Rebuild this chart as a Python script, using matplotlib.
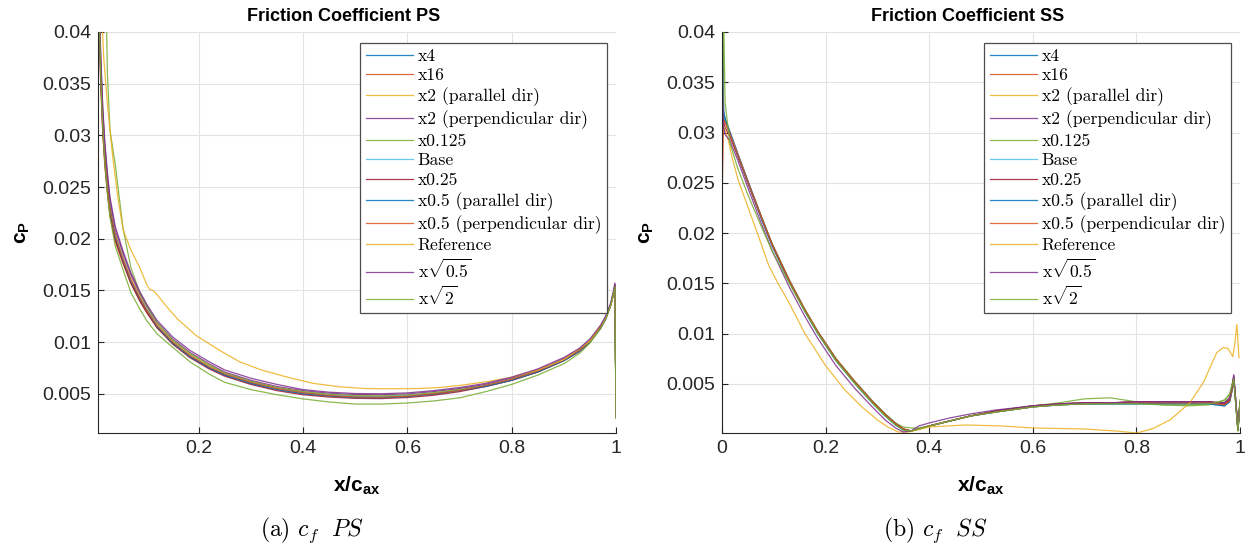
import numpy as np
import matplotlib
matplotlib.use('Agg')
import matplotlib.pyplot as plt
from matplotlib.font_manager import FontProperties
from matplotlib.ticker import FuncFormatter

plt.rcParams['font.family'] = ['Liberation Sans', 'DejaVu Sans']
plt.rcParams['mathtext.fontset'] = 'custom'
plt.rcParams['mathtext.rm'] = 'Liberation Sans'
plt.rcParams['mathtext.bf'] = 'Liberation Sans:bold'
plt.rcParams['mathtext.it'] = 'Liberation Sans:italic'

# MATLAB default line colours
C1 = (0.000, 0.447, 0.741)
C2 = (0.850, 0.325, 0.098)
C3 = (0.929, 0.694, 0.125)
C4 = (0.494, 0.184, 0.556)
C5 = (0.466, 0.674, 0.188)
C6 = (0.301, 0.745, 0.933)
C7 = (0.635, 0.078, 0.184)

labels = ['x4', 'x16', 'x2 (parallel dir)', 'x2 (perpendicular dir)', 'x0.125',
          'Base', 'x0.25', 'x0.5 (parallel dir)', 'x0.5 (perpendicular dir)',
          'Reference', r'x$\sqrt{0.5}$', r'x$\sqrt{2}$']
colors = [C1, C2, C3, C4, C5, C6, C7, C1, C2, C3, C4, C5]

# ---------------- pressure side ----------------
ps_x = [0.008, 0.012, 0.016, 0.02, 0.025, 0.03, 0.04, 0.055, 0.07, 0.087,
        0.1, 0.12, 0.15, 0.183, 0.22, 0.25, 0.3, 0.35, 0.4, 0.45,
        0.5, 0.55, 0.6, 0.65, 0.7, 0.75, 0.8, 0.85, 0.9, 0.93,
        0.95, 0.97, 0.98, 0.99, 0.995, 0.998, 1.0]

ps_x4 = [0.0450, 0.0362, 0.0311, 0.0278, 0.0249, 0.0226, 0.0200, 0.0178, 0.0158, 0.0141,
         0.0130, 0.0115, 0.0099, 0.0086, 0.0075, 0.0068, 0.0060, 0.0055, 0.0051, 0.00484,
         0.00470, 0.00468, 0.00478, 0.0050, 0.0053, 0.0058, 0.0064, 0.0072, 0.0083, 0.0092,
         0.0101, 0.0114, 0.0123, 0.0136, 0.0147, 0.0155, 0.0028]
ps_x16 = [0.0440, 0.0352, 0.0303, 0.0271, 0.0244, 0.0222, 0.0197, 0.0176, 0.0157, 0.0140,
          0.0129, 0.0114, 0.0099, 0.0086, 0.0075, 0.0068, 0.0060, 0.0054, 0.0050, 0.00478,
          0.00465, 0.00463, 0.00473, 0.00495, 0.0053, 0.0057, 0.0063, 0.0071, 0.0082, 0.0091,
          0.0100, 0.0113, 0.0122, 0.0136, 0.0146, 0.0154, 0.0030]
ps_x2_par = [0.0465, 0.0374, 0.0322, 0.0287, 0.0257, 0.0234, 0.0206, 0.0183, 0.0162, 0.0145,
             0.0133, 0.0117, 0.0101, 0.0088, 0.0077, 0.0070, 0.0062, 0.0056, 0.0052, 0.00492,
             0.00478, 0.00475, 0.00484, 0.00505, 0.0054, 0.0058, 0.0064, 0.0072, 0.0083, 0.0092,
             0.0101, 0.0114, 0.0123, 0.0136, 0.0146, 0.0154, 0.0027]
ps_x2_perp = [0.0470, 0.0378, 0.0326, 0.0291, 0.0261, 0.0237, 0.0209, 0.0186, 0.0165, 0.0147,
              0.0135, 0.0119, 0.0103, 0.0090, 0.0079, 0.0071, 0.0063, 0.0057, 0.0053, 0.00505,
              0.00492, 0.00490, 0.00498, 0.0052, 0.0055, 0.0059, 0.0065, 0.0073, 0.0084, 0.0093,
              0.0102, 0.0115, 0.0124, 0.0137, 0.0148, 0.0156, 0.0028]
ps_x0125 = [0.0700, 0.0650, 0.0580, 0.0500, 0.0360, 0.0305, 0.0272, 0.0210, 0.0172, 0.0148,
            0.0136, 0.0119, 0.0102, 0.0089, 0.0078, 0.0070, 0.0062, 0.0056, 0.0052, 0.00495,
            0.00482, 0.00480, 0.00488, 0.0051, 0.0054, 0.0058, 0.0064, 0.0072, 0.0083, 0.0092,
            0.0101, 0.0114, 0.0123, 0.0136, 0.0147, 0.0155, 0.0026]
ps_base = [0.0460, 0.0370, 0.0318, 0.0284, 0.0254, 0.0231, 0.0204, 0.0181, 0.0160, 0.0143,
           0.0132, 0.0116, 0.0100, 0.0087, 0.0076, 0.0069, 0.0061, 0.0055, 0.0051, 0.00485,
           0.00472, 0.00470, 0.00480, 0.0050, 0.0053, 0.0058, 0.0064, 0.0072, 0.0083, 0.0092,
           0.0101, 0.0114, 0.0123, 0.0136, 0.0146, 0.0154, 0.0029]
ps_x025 = [0.0445, 0.0356, 0.0306, 0.0274, 0.0246, 0.0224, 0.0199, 0.0177, 0.0157, 0.0140,
           0.0129, 0.0114, 0.0098, 0.0085, 0.0074, 0.0067, 0.0059, 0.0053, 0.0049, 0.00468,
           0.00455, 0.00453, 0.00463, 0.00485, 0.0052, 0.0057, 0.0063, 0.0071, 0.0082, 0.0091,
           0.0100, 0.0113, 0.0122, 0.0136, 0.0146, 0.0154, 0.0029]
ps_x05_par = [0.0452, 0.0364, 0.0313, 0.0280, 0.0251, 0.0228, 0.0202, 0.0179, 0.0159, 0.0142,
              0.0131, 0.0115, 0.0099, 0.0086, 0.0075, 0.0068, 0.0060, 0.0054, 0.0050, 0.00478,
              0.00463, 0.00461, 0.00472, 0.00495, 0.0053, 0.0057, 0.0063, 0.0071, 0.0082, 0.0091,
              0.0100, 0.0113, 0.0122, 0.0136, 0.0146, 0.0154, 0.0028]
ps_x05_perp = [0.0455, 0.0366, 0.0315, 0.0282, 0.0253, 0.0230, 0.0203, 0.0180, 0.0160, 0.0143,
               0.0131, 0.0116, 0.0100, 0.0087, 0.0076, 0.0069, 0.0061, 0.0055, 0.0051, 0.00483,
               0.00468, 0.00466, 0.00476, 0.0050, 0.0053, 0.0058, 0.0064, 0.0072, 0.0083, 0.0092,
               0.0101, 0.0114, 0.0123, 0.0136, 0.0146, 0.0154, 0.0028]
ps_sqrt05 = [0.0475, 0.0382, 0.0329, 0.0294, 0.0264, 0.0240, 0.0212, 0.0188, 0.0167, 0.0149,
             0.0137, 0.0121, 0.0105, 0.0092, 0.0081, 0.0073, 0.0065, 0.0059, 0.0054, 0.00515,
             0.00502, 0.00500, 0.00508, 0.0053, 0.0056, 0.0060, 0.0066, 0.0074, 0.0085, 0.0094,
             0.0103, 0.0116, 0.0125, 0.0138, 0.0149, 0.0157, 0.0027]
ps_sqrt2 = [0.0455, 0.0360, 0.0308, 0.0274, 0.0244, 0.0221, 0.0193, 0.0170, 0.0148, 0.0132,
            0.0121, 0.0108, 0.0095, 0.0081, 0.0069, 0.0061, 0.0054, 0.0049, 0.0045, 0.0042,
            0.0040, 0.0040, 0.0041, 0.0043, 0.0046, 0.0052, 0.0059, 0.0068, 0.0079, 0.0089,
            0.0099, 0.0113, 0.0122, 0.0136, 0.0146, 0.0153, 0.0027]

ps_ref_x = [0.010, 0.014, 0.018, 0.025, 0.035, 0.045, 0.055, 0.07, 0.087, 0.1,
            0.106, 0.112, 0.12, 0.139, 0.16, 0.196, 0.24, 0.278, 0.32, 0.374,
            0.42, 0.47, 0.52, 0.566, 0.62, 0.66, 0.7, 0.757, 0.8, 0.85,
            0.9, 0.95, 0.98, 0.99, 0.998, 1.0]
ps_ref = [0.0480, 0.0420, 0.0375, 0.0330, 0.0280, 0.0240, 0.0209, 0.0189, 0.0172, 0.0156,
          0.0151, 0.0150, 0.0146, 0.0134, 0.0122, 0.0106, 0.0092, 0.0081, 0.0073, 0.00655,
          0.0060, 0.00567, 0.0055, 0.00548, 0.0055, 0.0056, 0.0058, 0.0062, 0.0066, 0.0073,
          0.0083, 0.0101, 0.0123, 0.0136, 0.0154, 0.0027]

# ---------------- suction side ----------------
ss_x = [0.0, 0.003, 0.006, 0.015, 0.03, 0.05, 0.077, 0.097, 0.131, 0.16,
        0.185, 0.22, 0.257, 0.29, 0.315, 0.335, 0.35, 0.365, 0.38, 0.4,
        0.44, 0.48, 0.53, 0.6, 0.65, 0.7, 0.75, 0.8, 0.85, 0.9,
        0.94, 0.97, 0.98, 0.985, 0.988, 0.992, 0.996, 1.0]

ss_x4 = [0.0450, 0.0322, 0.0314, 0.0301, 0.0279, 0.0251, 0.0214, 0.0188, 0.0151, 0.0123,
         0.0101, 0.0074, 0.0051, 0.0032, 0.0019, 0.0010, 0.0005, 0.0003, 0.0005, 0.0008,
         0.0013, 0.0018, 0.0022, 0.0027, 0.0029, 0.0030, 0.0030, 0.0030, 0.0030, 0.0030,
         0.0030, 0.0028, 0.0032, 0.0044, 0.0054, 0.0031, 0.0005, 0.0030]
ss_x16 = [0.0228, 0.0312, 0.0310, 0.0299, 0.0278, 0.0250, 0.0214, 0.0188, 0.0151, 0.0123,
          0.0101, 0.0074, 0.0051, 0.0032, 0.0019, 0.0010, 0.0005, 0.0003, 0.0005, 0.0008,
          0.0013, 0.0018, 0.0023, 0.0028, 0.0030, 0.0031, 0.0031, 0.0032, 0.0032, 0.0032,
          0.0032, 0.0030, 0.0034, 0.0046, 0.0056, 0.0031, 0.0004, 0.0032]
ss_x2_par = [0.0300, 0.0315, 0.0311, 0.0300, 0.0279, 0.0251, 0.0215, 0.0189, 0.0152, 0.0124,
             0.0102, 0.0075, 0.0052, 0.0033, 0.0020, 0.0010, 0.0005, 0.0003, 0.0005, 0.0008,
             0.0013, 0.0018, 0.0022, 0.0027, 0.0029, 0.0030, 0.0030, 0.0031, 0.0031, 0.0031,
             0.0031, 0.0029, 0.0033, 0.0045, 0.0055, 0.0030, 0.0004, 0.0031]
ss_x2_perp = [0.0410, 0.0320, 0.0313, 0.0301, 0.0280, 0.0252, 0.0215, 0.0189, 0.0152, 0.0124,
              0.0102, 0.0075, 0.0052, 0.0033, 0.0020, 0.0011, 0.0005, 0.0003, 0.0005, 0.0008,
              0.0013, 0.0018, 0.0023, 0.0028, 0.0030, 0.0031, 0.0031, 0.0032, 0.0032, 0.0032,
              0.0032, 0.0031, 0.0036, 0.0048, 0.0058, 0.0032, 0.0005, 0.0032]
ss_x0125 = [0.0360, 0.0316, 0.0312, 0.0300, 0.0279, 0.0251, 0.0215, 0.0189, 0.0152, 0.0124,
            0.0102, 0.0075, 0.0052, 0.0033, 0.0020, 0.0011, 0.0007, 0.0006, 0.0006, 0.0008,
            0.0013, 0.0018, 0.0023, 0.0028, 0.0031, 0.0035, 0.0036, 0.0032, 0.0029, 0.0028,
            0.0029, 0.0034, 0.0040, 0.0050, 0.0054, 0.0028, 0.0003, 0.0033]
ss_base = [0.0430, 0.0318, 0.0312, 0.0300, 0.0278, 0.0250, 0.0213, 0.0187, 0.0150, 0.0122,
           0.0100, 0.0073, 0.0050, 0.0031, 0.0018, 0.0009, 0.0004, 0.0003, 0.0005, 0.0008,
           0.0013, 0.0018, 0.0022, 0.0027, 0.0029, 0.0030, 0.0030, 0.0031, 0.0031, 0.0031,
           0.0031, 0.0029, 0.0033, 0.0045, 0.0055, 0.0030, 0.0004, 0.0031]
ss_x025 = [0.0320, 0.0310, 0.0305, 0.0296, 0.0277, 0.0250, 0.0214, 0.0188, 0.0151, 0.0123,
           0.0101, 0.0074, 0.0051, 0.0032, 0.0019, 0.0010, 0.0005, 0.0003, 0.0005, 0.0008,
           0.0013, 0.0018, 0.0023, 0.0028, 0.0030, 0.0031, 0.0031, 0.0032, 0.0032, 0.0032,
           0.0032, 0.0030, 0.0034, 0.0046, 0.0056, 0.0031, 0.0004, 0.0032]
ss_x05_par = [0.0440, 0.0319, 0.0313, 0.0300, 0.0278, 0.0250, 0.0213, 0.0187, 0.0150, 0.0122,
              0.0100, 0.0073, 0.0050, 0.0031, 0.0018, 0.0009, 0.0004, 0.0003, 0.0005, 0.0008,
              0.0013, 0.0018, 0.0022, 0.0027, 0.0029, 0.0030, 0.0030, 0.0030, 0.0030, 0.0030,
              0.0030, 0.0028, 0.0032, 0.0044, 0.0054, 0.0030, 0.0004, 0.0030]
ss_x05_perp = [0.0310, 0.0313, 0.0310, 0.0299, 0.0278, 0.0250, 0.0214, 0.0188, 0.0151, 0.0123,
               0.0101, 0.0074, 0.0051, 0.0032, 0.0019, 0.0010, 0.0005, 0.0003, 0.0005, 0.0008,
               0.0013, 0.0018, 0.0022, 0.0027, 0.0029, 0.0030, 0.0031, 0.0031, 0.0031, 0.0031,
               0.0031, 0.0029, 0.0033, 0.0045, 0.0055, 0.0031, 0.0004, 0.0031]
ss_sqrt05 = [0.0395, 0.0305, 0.0298, 0.0292, 0.0273, 0.0245, 0.0208, 0.0182, 0.0145, 0.0117,
             0.0095, 0.0068, 0.0045, 0.0027, 0.0014, 0.0006, 0.0002, 0.0003, 0.0008, 0.0011,
             0.0016, 0.0020, 0.0024, 0.0028, 0.0030, 0.0031, 0.0031, 0.0032, 0.0032, 0.0032,
             0.0032, 0.0031, 0.0036, 0.0049, 0.0059, 0.0033, 0.0005, 0.0032]
ss_sqrt2 = [0.0260, 0.0420, 0.0330, 0.0290, 0.0265, 0.0238, 0.0205, 0.0182, 0.0149, 0.0122,
            0.0100, 0.0073, 0.0050, 0.0031, 0.0018, 0.0009, 0.0004, 0.0003, 0.0005, 0.0008,
            0.0013, 0.0018, 0.0022, 0.0027, 0.0029, 0.0030, 0.0030, 0.0030, 0.0029, 0.0029,
            0.0030, 0.0033, 0.0039, 0.0049, 0.0055, 0.0029, 0.0003, 0.0034]

ss_ref_x = [0.0, 0.004, 0.012, 0.019, 0.031, 0.05, 0.073, 0.09, 0.108, 0.13,
            0.16, 0.2, 0.237, 0.27, 0.3, 0.32, 0.34, 0.36, 0.4, 0.47,
            0.54, 0.6, 0.7, 0.76, 0.8, 0.83, 0.865, 0.903, 0.929, 0.955,
            0.968, 0.977, 0.986, 0.99, 0.994, 0.998]
ss_ref = [0.0310, 0.0305, 0.0293, 0.0276, 0.0253, 0.0226, 0.0193, 0.0168, 0.0150, 0.0130,
          0.0100, 0.0068, 0.0044, 0.0027, 0.0014, 0.0007, 0.0002, 0.0002, 0.0007, 0.0009,
          0.0008, 0.0006, 0.0005, 0.0003, 0.0001, 0.0005, 0.0014, 0.0031, 0.0051, 0.0081,
          0.0086, 0.0085, 0.0077, 0.0090, 0.0109, 0.0076]

ps_series = [(ps_x, ps_x4), (ps_x, ps_x16), (ps_x, ps_x2_par), (ps_x, ps_x2_perp),
             (ps_x, ps_x0125), (ps_x, ps_base), (ps_x, ps_x025), (ps_x, ps_x05_par),
             (ps_x, ps_x05_perp), (ps_ref_x, ps_ref), (ps_x, ps_sqrt05), (ps_x, ps_sqrt2)]
ss_series = [(ss_x, ss_x4), (ss_x, ss_x16), (ss_x, ss_x2_par), (ss_x, ss_x2_perp),
             (ss_x, ss_x0125), (ss_x, ss_base), (ss_x, ss_x025), (ss_x, ss_x05_par),
             (ss_x, ss_x05_perp), (ss_ref_x, ss_ref), (ss_x, ss_sqrt05), (ss_x, ss_sqrt2)]

W, H = 1251, 554
fig = plt.figure(figsize=(W / 100, H / 100), dpi=100)

legend_font = FontProperties(family='cmr10', size=12.7, math_fontfamily='cm')
axis_grey = (0.15, 0.15, 0.15)


def num_fmt(v, pos):
    return '%g' % round(v, 4)


def draw_panel(left_px, series, title, xlim, ylim, xticks, caption, caption_px):
    ax = fig.add_axes([left_px / W, 1 - 433 / H, 518 / W, 401 / H])
    for (xs, ys), lab, col in zip(series, labels, colors):
        ax.plot(xs, ys, color=col, lw=0.9, alpha=0.85, label=lab)
    ax.set_xlim(*xlim)
    ax.set_ylim(*ylim)
    ax.set_xticks(xticks)
    ax.set_yticks([0.005, 0.01, 0.015, 0.02, 0.025, 0.03, 0.035, 0.04])
    ax.xaxis.set_major_formatter(FuncFormatter(num_fmt))
    ax.yaxis.set_major_formatter(FuncFormatter(num_fmt))
    ax.grid(True, color='#e3e3e3', lw=0.8)
    ax.set_axisbelow(True)
    for s in ('top', 'right'):
        ax.spines[s].set_visible(False)
    for s in ('left', 'bottom'):
        ax.spines[s].set_color(axis_grey)
        ax.spines[s].set_linewidth(0.8)
    ax.tick_params(direction='in', length=4, width=0.8, color=axis_grey,
                   labelsize=14, labelcolor=axis_grey, pad=5)
    ax.set_title(title, fontsize=13, fontweight='bold', pad=8, x=0.474)
    ax.set_xlabel(r'$\mathbf{x/c_{ax}}$', fontsize=15)
    ax.set_ylabel(r'$\mathbf{c_P}$', fontsize=15)
    ax.xaxis.set_label_coords(0.5, -0.105)
    ax.yaxis.set_label_coords(-0.127, 0.5)
    leg = ax.legend(loc='upper right', bbox_to_anchor=(0.982, 0.972), prop=legend_font,
                    frameon=True, fancybox=False, framealpha=1, borderaxespad=0,
                    handlelength=2.7, handletextpad=0.25, labelspacing=0.24,
                    borderpad=0.3)
    leg.get_frame().set_edgecolor((0.3, 0.3, 0.3))
    leg.get_frame().set_linewidth(0.9)
    fig.text(caption_px / W, 1 - 530 / H, caption, ha='center', va='center',
             fontsize=17, family='cmr10', math_fontfamily='cm')
    return ax


draw_panel(98, ps_series, 'Friction Coefficient PS', (0.007, 1.0), (0.0012, 0.04),
           [0.2, 0.4, 0.6, 0.8, 1.0], r'(a) $c_f\ \ PS$', 312)
draw_panel(722, ss_series, 'Friction Coefficient SS', (0.0, 1.0), (0.0001, 0.04),
           [0.0, 0.2, 0.4, 0.6, 0.8, 1.0], r'(b) $c_f\ \ SS$', 935)

fig.savefig('out.png', dpi=100)
